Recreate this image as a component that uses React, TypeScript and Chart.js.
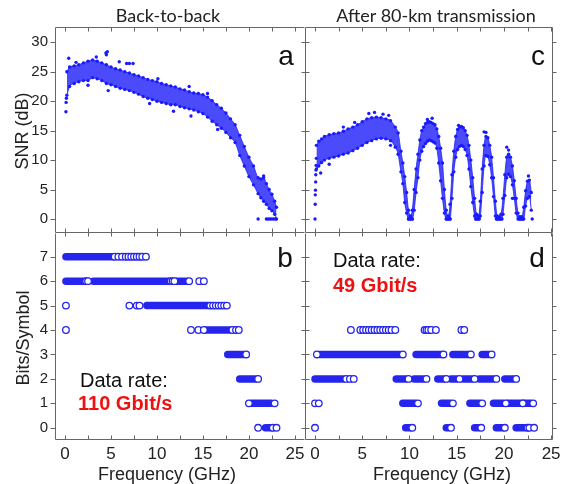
import React, { useEffect, useRef } from "react";
import { Chart, registerables } from "chart.js";

Chart.register(...registerables);

// ---------------- data ----------------
// Panel a: back-to-back SNR (dB): dense cloud upper / lower edges
const A_FREQ = [0.2,0.5,1.0,1.5,2.0,2.5,3.0,3.5,4.0,4.5,5.0,5.5,6.0,6.5,7.0,7.5,8.0,8.5,9.0,9.5,10.0,10.5,11.0,11.5,12.0,12.5,13.0,13.5,14.0,14.5,15.0,15.5,16.0,16.5,17.0,17.5,18.0,18.5,19.0,19.5,20.0,20.5,21.0,21.3,21.6,21.9,22.2,22.5,22.8,23.0];
const A_HIGH = [25.0,25.8,26.0,26.2,26.5,26.8,27.0,26.8,26.5,26.2,25.8,25.5,25.3,25.0,24.8,24.5,24.3,24.0,23.7,23.5,23.3,23.0,22.8,22.6,22.4,22.1,21.9,21.6,21.4,21.3,21.1,20.7,20.1,19.4,18.8,18.0,17.0,16.0,14.2,12.3,10.5,9.0,7.0,6.8,7.0,6.0,5.0,4.2,3.0,2.0];
const A_LOW = [21.0,22.5,23.0,23.3,23.5,23.5,24.0,23.8,23.5,23.0,22.8,22.5,22.2,22.0,21.8,21.5,21.2,20.8,20.5,20.3,20.0,19.8,19.6,19.4,19.4,19.1,18.9,18.7,18.5,18.2,17.9,17.3,16.6,16.0,15.4,14.7,13.8,13.0,10.8,9.0,7.2,5.8,4.3,3.6,3.0,2.5,1.8,1.4,0.8,0.0];
const A_OUTLIERS = [[0.1,18.2],[0.12,19.8],[0.15,20.5],[0.4,27.3],[1.2,26.6],[3.4,27.5],[4.45,28.2],[4.5,27.9],[4.6,28.4],[5.9,26.7],[6.7,26.4],[7.0,26.4],[7.4,26.4],[2.5,22.7],[4.7,21.8],[9.2,19.6],[11.8,18.3],[13.7,17.5],[16.6,15.2],[10.1,23.8],[13.5,22.5],[15.5,21.3],[21.6,7.3],[21.0,0],[21.9,0],[22.1,0],[22.3,0],[22.5,0],[22.7,0],[22.9,0]];

// Panel c: after 80 km SNR (dB)
const C_FREQ = [0.15,0.4,0.7,1.0,1.5,2.0,2.5,3.0,3.5,4.0,4.5,5.0,5.5,6.0,6.5,7.0,7.5,8.0,8.5,8.8,9.1,9.3,9.5,9.7,9.9,10.1,10.3,10.5,10.7,10.9,11.1,11.3,11.5,11.7,11.9,12.1,12.3,12.5,12.7,12.9,13.1,13.3,13.5,13.7,13.9,14.1,14.3,14.5,14.7,14.9,15.1,15.3,15.5,15.7,15.9,16.1,16.3,16.5,16.7,16.9,17.1,17.3,17.5,17.7,17.9,18.1,18.3,18.5,18.7,18.9,19.1,19.3,19.5,19.7,19.9,20.1,20.3,20.5,20.7,20.9,21.1,21.3,21.5,21.7,21.9,22.1,22.3,22.5,22.7,22.9];
const C_HIGH = [12.5,13.2,13.6,14.0,14.3,14.5,14.6,14.9,15.3,15.6,16.0,16.5,17.0,17.2,17.3,17.2,17.0,16.7,15.6,14.6,
  11.5,9.5,7.2,4.5,1.5, 0.5,1.5,5.0,8.5,11.0, 13.4,15.0,15.6,16.2,16.4, 16.5,16.4,16.2,16.0,15.3, 14.0,12.0,9.5,5.0,1.5,
  0.5,2.5,7.5,11.5,14.0, 15.2,15.6,15.7,15.5,15.0, 14.2,12.5,10.0,7.0,3.5, 0.8,0.5,3.0,8.5,12.5, 14.0,13.8,12.5,10.5,7.0,
  3.0,0.5,0.4,0.8,3.5, 7.5,10.5,11.0,10.5,9.0, 6.5,3.5,1.0,0.4,0.4, 2.0,4.8,6.4,6.6,4.5];
const C_LOW = [8.5,9.0,9.6,10.0,10.3,10.5,10.7,11.0,11.2,11.6,12.0,12.5,13.0,13.3,13.6,13.7,13.6,13.3,12.2,11.0,
  8.0,6.0,2.8,1.0,0, 0,0,1.5,4.5,7.0, 10.0,11.5,12.3,12.8,13.2, 13.4,13.3,13.1,12.9,12.0, 9.5,6.5,3.5,1.0,0,
  0,0,3.5,8.0,10.5, 11.8,12.3,12.5,12.3,11.8, 10.8,8.5,5.5,2.8,0.5, 0,0,0.5,4.5,9.0, 10.8,10.6,9.2,7.0,3.8,
  0.5,0,0,0,0.8, 4.0,7.0,7.6,7.2,5.8, 3.5,1.0,0,0,0, 0,2.2,3.5,3.8,1.5];
const C_OUTLIERS = [[0,0],[0.02,2.5],[0.03,4.1],[0.05,4.9],[0.07,6.3],[0.08,7.5],[0.1,8.3],[0.12,9.1],[0.14,10.3],[5.7,17.9],[6.3,18.1],[7.2,17.8],[7.8,17.6],[11.9,16.9],[12.4,17.1],[15.2,15.9],[17.9,14.8],[18.1,14.7],[20.3,12.2],[20.5,11.7],[22.6,7.3],[0.6,7.8],[1.5,9.3],[3.0,15.6],[4.2,16.4],[8.0,12.5],[20.9,3.5],[9.9,0],[10.1,0],[10.3,0],[13.9,0],[14.1,0],[14.3,0],[17.0,0],[17.2,0],[17.4,0],[19.2,0],[19.4,0],[19.6,0],[19.8,0],[21.6,0],[21.8,0],[22.0,0],[23.0,0]];

// Panel b: back-to-back bit loading (dense runs + single subcarrier circles)
const B_RUN_LEVEL = [7, 6, 6, 6, 5, 4, 3, 2, 1, 0];
const B_RUN_START = [0.1, 0.1, 3.1, 12.1, 8.9, 15.3, 17.7, 19.0, 20.3, 21.8];
const B_RUN_END = [5.2, 2.2, 11.3, 13.2, 15.6, 17.9, 19.4, 20.7, 22.4, 22.5];
const B_CIRCLES = [
  [7,5.4],[7,5.8],[7,6.2],[7,6.6],[7,6.9],[7,7.2],[7,7.5],[7,7.8],[7,8.1],[7,8.4],[7,8.8],
  [6,2.3],[6,2.5],[6,11.5],[6,11.7],[6,11.9],[6,13.5],[6,14.6],[6,15.1],
  [5,0.1],[5,7.0],[5,7.8],[5,8.1],[5,15.8],[5,16.1],[5,16.4],[5,16.7],[5,17.0],[5,17.3],[5,17.6],
  [4,0.1],[4,13.7],[4,14.5],[4,15.1],[4,18.2],[4,18.6],[4,18.9],
  [3,19.7],[2,21.0],[1,20.0],[1,22.8],[0,21.0],[0,22.6],[0,23.0],
];

// Panel d: after 80 km bit loading
const D_RUN_LEVEL = [3,3,3,3, 2,2,2,2,2,2,2,2, 1,1,1,1,1,1, 0,0,0,0,0];
const D_RUN_START = [0.5,10.7,14.6,17.7, 0.0,8.6,10.5,13.0,14.4,15.7,17.4,20.1, 9.3,13.4,16.4,18.9,20.4,22.0, 9.6,13.9,16.9,19.2,21.3];
const D_RUN_END = [9.0,13.4,16.3,18.4, 3.0,9.6,11.5,13.7,15.0,16.6,18.9,21.0, 10.6,14.3,17.4,19.9,21.7,22.8, 10.1,14.1,17.3,19.9,22.2];
const D_CIRCLES = [
  [4,3.8],[4,4.8],[4,5.1],[4,5.4],[4,5.7],[4,6.0],[4,6.3],[4,6.6],[4,6.9],[4,7.2],[4,7.5],[4,7.8],[4,8.1],[4,8.5],
  [4,11.6],[4,11.8],[4,12.0],[4,12.3],[4,12.8],[4,15.5],[4,15.8],
  [3,0.2],[3,9.3],[3,13.6],[3,16.5],[3,18.7],
  [2,3.3],[2,3.7],[2,4.1],[2,9.9],[2,11.8],[2,13.9],[2,15.3],[2,16.9],[2,19.2],[2,21.3],
  [1,0.0],[1,0.4],[1,10.9],[1,14.6],[1,17.7],[1,20.2],[1,22.0],[1,23.1],
  [0,0.0],[0,10.3],[0,14.4],[0,17.6],[0,20.1],[0,22.5],[0,22.7],[0,23.2],
];

const SNR_TICKS = [0, 5, 10, 15, 20, 25, 30];
const BITS_TICKS = [0, 1, 2, 3, 4, 5, 6, 7];
const FREQ_TICKS = [0, 2.5, 5, 7.5, 10, 12.5, 15, 17.5, 20, 22.5, 25];
const FREQ_LABELS = [0, 5, 10, 15, 20, 25];

// ---------------- style / layout ----------------
const W = 568;
const H = 484;
const BLUE = "#1a1aff";
const BAND = "rgba(30,30,250,0.8)";
const CIRCLE_BLUE = "#2525ee";
const FRAME = "#666666";
const TEXT = "#222";
const SANS = "'Liberation Sans', Arial, sans-serif";

const X0 = 55, XM = 305, X1 = 553;
const Y0 = 27, YM = 233, Y1 = 440;

type Side = { side: "left" | "right" | "top" | "bottom"; dir: "in" | "out" | "both"; len: number };

function framePlugin(sides: Side[], xTicks: number[], yTicks: number[]) {
  return {
    id: "frame",
    afterDatasetsDraw(chart: any) {
      const { ctx, chartArea: a } = chart;
      const xs = chart.scales.x;
      const ys = chart.scales.y;
      const px = (v: number) => Math.round(v) + 0.5;
      const L = px(a.left), R = px(a.right - 1), T = px(a.top), B = px(a.bottom - 1);
      ctx.save();
      ctx.strokeStyle = FRAME;
      ctx.lineWidth = 1;
      ctx.beginPath();
      for (const s of sides) {
        const vertical = s.side === "left" || s.side === "right";
        const sign = s.side === "left" || s.side === "top" ? 1 : -1;
        const from = s.dir === "in" ? 0 : -s.len * sign;
        const to = s.dir === "out" ? 0 : s.len * sign;
        if (vertical) {
          const x = s.side === "left" ? L : R;
          ctx.moveTo(x, T);
          ctx.lineTo(x, B);
          for (const v of yTicks) {
            const y = px(ys.getPixelForValue(v));
            ctx.moveTo(x + from, y);
            ctx.lineTo(x + to, y);
          }
        } else {
          const y = s.side === "top" ? T : B;
          ctx.moveTo(L, y);
          ctx.lineTo(R, y);
          for (const v of xTicks) {
            const x = px(xs.getPixelForValue(v));
            if (x < L || x > R) continue;
            ctx.moveTo(x, y + from);
            ctx.lineTo(x, y + to);
          }
        }
      }
      ctx.stroke();
      ctx.restore();
    },
  };
}

function baseOptions(area: number[], xr: number[], yr: number[], showX: boolean, showY: boolean, yLabels: number[]) {
  const [l, t, r, b] = area;
  return {
    responsive: false,
    animation: false as const,
    events: [] as any[],
    layout: { padding: { left: 0, top: t, right: W - r, bottom: 0 } },
    plugins: { legend: { display: false }, tooltip: { enabled: false }, title: { display: false } },
    scales: {
      x: {
        type: "linear" as const,
        min: xr[0],
        max: xr[1],
        afterBuildTicks: (s: any) => { s.ticks = FREQ_LABELS.map((v) => ({ value: v })); },
        afterFit: (s: any) => { s.height = H - b; },
        grid: { display: false, drawTicks: false },
        border: { display: false },
        ticks: {
          display: showX,
          autoSkip: false,
          maxRotation: 0,
          padding: 4,
          color: TEXT,
          font: { family: SANS, size: 17 },
        },
      },
      y: {
        type: "linear" as const,
        min: yr[0],
        max: yr[1],
        afterBuildTicks: (s: any) => { s.ticks = yLabels.map((v) => ({ value: v })); },
        afterFit: (s: any) => { s.width = l; },
        grid: { display: false, drawTicks: false },
        border: { display: false },
        ticks: {
          display: showY,
          autoSkip: false,
          padding: 7,
          color: TEXT,
          font: { family: SANS, size: 15 },
        },
      },
    },
  };
}

function snrDatasets(freq: number[], hi: number[], lo: number[], outliers: number[][]) {
  const hiPts = freq.map((f, i) => ({ x: f, y: hi[i] }));
  const loPts = freq.map((f, i) => ({ x: f, y: lo[i] }));
  const outPts = outliers.map(([f, v]) => ({ x: f, y: v }));
  return [
    {
      type: "scatter",
      data: [...hiPts, ...loPts, ...outPts],
      pointRadius: 1.7,
      pointBackgroundColor: BLUE,
      pointBorderWidth: 0,
      showLine: false,
      order: 0,
    },
    {
      type: "line",
      data: hiPts,
      showLine: true,
      borderColor: BAND,
      borderWidth: 1,
      backgroundColor: BAND,
      fill: "+1",
      pointRadius: 0,
      cubicInterpolationMode: "monotone",
      order: 1,
    },
    {
      type: "line",
      data: loPts,
      showLine: true,
      borderColor: BAND,
      borderWidth: 1,
      fill: false,
      pointRadius: 0,
      cubicInterpolationMode: "monotone",
      order: 2,
    },
  ];
}

function bitsDatasets(levels: number[], starts: number[], ends: number[], circles: number[][]) {
  const runs = levels.map((lv, i) => ({
    type: "line",
    data: [{ x: starts[i], y: lv }, { x: ends[i], y: lv }],
    showLine: true,
    borderColor: CIRCLE_BLUE,
    borderWidth: 7.5,
    borderCapStyle: "round",
    pointRadius: 0,
    fill: false,
    order: 1,
  }));
  return [
    {
      type: "scatter",
      data: circles.map(([lv, f]) => ({ x: f, y: lv })),
      pointRadius: 3.3,
      pointBorderWidth: 1.3,
      pointBorderColor: CIRCLE_BLUE,
      pointBackgroundColor: "#ffffff",
      showLine: false,
      order: 0,
    },
    ...runs,
  ];
}

const LEFT_X = [-1.09, 26.1];
const RIGHT_X = [-1.06, 25.2];
const SNR_Y = [-2.38, 32.6];
const BITS_Y = [-0.5, 7.97];

export default function App() {
  const refA = useRef<HTMLCanvasElement>(null);
  const refB = useRef<HTMLCanvasElement>(null);
  const refC = useRef<HTMLCanvasElement>(null);
  const refD = useRef<HTMLCanvasElement>(null);

  useEffect(() => {
    const charts: Chart[] = [];
    const make = (canvas: HTMLCanvasElement | null, datasets: any[], options: any, plugin: any) => {
      if (!canvas) return;
      charts.push(new Chart(canvas, { type: "scatter", data: { datasets }, options, plugins: [plugin] } as any));
    };
    make(
      refA.current,
      snrDatasets(A_FREQ, A_HIGH, A_LOW, A_OUTLIERS),
      baseOptions([X0, Y0, XM, YM], LEFT_X, SNR_Y, false, true, SNR_TICKS),
      framePlugin([
        { side: "left", dir: "out", len: 5 },
        { side: "top", dir: "in", len: 4 },
        { side: "bottom", dir: "both", len: 4 },
      ], FREQ_TICKS, SNR_TICKS)
    );
    make(
      refC.current,
      snrDatasets(C_FREQ, C_HIGH, C_LOW, C_OUTLIERS),
      baseOptions([XM, Y0, X1, YM], RIGHT_X, SNR_Y, false, false, SNR_TICKS),
      framePlugin([
        { side: "left", dir: "both", len: 4 },
        { side: "right", dir: "out", len: 4 },
        { side: "top", dir: "in", len: 4 },
        { side: "bottom", dir: "both", len: 4 },
      ], FREQ_TICKS, SNR_TICKS)
    );
    make(
      refB.current,
      bitsDatasets(B_RUN_LEVEL, B_RUN_START, B_RUN_END, B_CIRCLES),
      baseOptions([X0, YM, XM, Y1], LEFT_X, BITS_Y, true, true, BITS_TICKS),
      framePlugin([
        { side: "left", dir: "out", len: 5 },
        { side: "bottom", dir: "in", len: 4 },
      ], FREQ_TICKS, BITS_TICKS)
    );
    make(
      refD.current,
      bitsDatasets(D_RUN_LEVEL, D_RUN_START, D_RUN_END, D_CIRCLES),
      baseOptions([XM, YM, X1, Y1], RIGHT_X, BITS_Y, true, false, BITS_TICKS),
      framePlugin([
        { side: "left", dir: "both", len: 4 },
        { side: "right", dir: "out", len: 4 },
        { side: "bottom", dir: "in", len: 4 },
      ], FREQ_TICKS, BITS_TICKS)
    );
    return () => charts.forEach((c) => c.destroy());
  }, []);

  const canvasStyle: React.CSSProperties = { position: "absolute", left: 0, top: 0, width: W, height: H };
  const txt = (extra: React.CSSProperties): React.CSSProperties => ({
    position: "absolute",
    whiteSpace: "nowrap",
    lineHeight: 1,
    fontFamily: SANS,
    color: TEXT,
    ...extra,
  });

  return (
    <div style={{ position: "fixed", left: 0, top: 0, width: W, height: H, background: "#fff", overflow: "hidden" }}>
      <canvas ref={refA} width={W} height={H} style={canvasStyle} />
      <canvas ref={refC} width={W} height={H} style={canvasStyle} />
      <canvas ref={refB} width={W} height={H} style={canvasStyle} />
      <canvas ref={refD} width={W} height={H} style={canvasStyle} />

      <div style={txt({ left: 168, top: 15, transform: "translate(-50%,-50%)", fontFamily: "Lato, 'Open Sans', sans-serif", fontSize: 18 })}>Back-to-back</div>
      <div style={txt({ left: 436, top: 15, transform: "translate(-50%,-50%)", fontFamily: "Lato, 'Open Sans', sans-serif", fontSize: 18 })}>After 80-km transmission</div>

      <div style={txt({ left: 22, top: 131, transform: "translate(-50%,-50%) rotate(-90deg)", fontSize: 18 })}>SNR (dB)</div>
      <div style={txt({ left: 23, top: 338, transform: "translate(-50%,-50%) rotate(-90deg)", fontSize: 18 })}>Bits/Symbol</div>
      <div style={txt({ left: 167, top: 474, transform: "translate(-50%,-50%)", fontSize: 18 })}>Frequency (GHz)</div>
      <div style={txt({ left: 442, top: 474, transform: "translate(-50%,-50%)", fontSize: 18 })}>Frequency (GHz)</div>

      <div style={txt({ left: 286, top: 66 - 24, transform: "translateX(-50%)", fontSize: 28, color: "#111" })}>a</div>
      <div style={txt({ left: 538, top: 66 - 24, transform: "translateX(-50%)", fontSize: 28, color: "#111" })}>c</div>
      <div style={txt({ left: 285, top: 268 - 24, transform: "translateX(-50%)", fontSize: 28, color: "#111" })}>b</div>
      <div style={txt({ left: 537, top: 268 - 24, transform: "translateX(-50%)", fontSize: 28, color: "#111" })}>d</div>

      <div style={txt({ left: 80, top: 387 - 17, fontSize: 20, color: "#111" })}>Data rate:</div>
      <div style={txt({ left: 78, top: 410 - 17, fontSize: 20, fontWeight: 700, color: "#ee1111" })}>110 Gbit/s</div>
      <div style={txt({ left: 333, top: 267 - 17, fontSize: 20, color: "#111" })}>Data rate:</div>
      <div style={txt({ left: 333, top: 292 - 17, fontSize: 20, fontWeight: 700, color: "#ee1111" })}>49 Gbit/s</div>
    </div>
  );
}
